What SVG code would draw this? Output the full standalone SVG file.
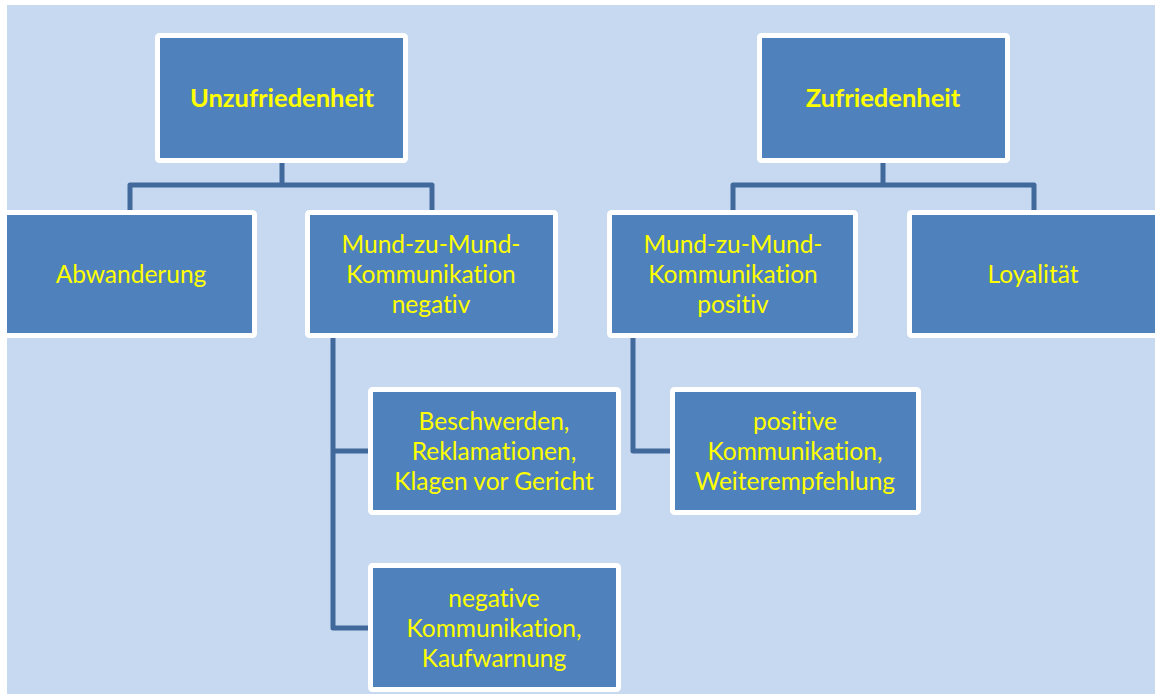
<svg xmlns="http://www.w3.org/2000/svg" width="1155" height="694" viewBox="0 0 1155 694">
  <style>
    .box { fill: #4f81bd; stroke: #ffffff; stroke-width: 5; }
    .lbl { font-family: Lato, "Open Sans", "Liberation Sans", sans-serif; font-size: 24.5px; fill: #ffff00; text-anchor: middle; font-variant-ligatures: none; }
    .head { font-weight: bold; font-size: 25.5px; }
    .wire { fill: none; stroke: #41699b; stroke-width: 5; stroke-linejoin: round; }
  </style>
  <rect x="0" y="0" width="1155" height="694" fill="#ffffff"/>
  <rect x="7" y="5" width="1148" height="689" fill="#c6d9f0"/>

  <g id="connectors">
    <path class="wire" d="M282 163 V185 M130 210 V185 H432 V210"/>
    <path class="wire" d="M883 163 V185 M733 210 V185 H1034 V210"/>
    <path class="wire" d="M333 338 V628 H368 M333 451 H368"/>
    <path class="wire" d="M633 338 V451 H670"/>
  </g>

  <g id="unzufriedenheit">
    <rect class="box" x="157.5" y="35.5" width="248" height="125" rx="2"/>
    <text class="lbl head" x="282" y="107">Unzufriedenheit</text>
  </g>
  <g id="zufriedenheit">
    <rect class="box" x="759.5" y="35.5" width="248" height="125" rx="2"/>
    <text class="lbl head" x="883" y="107">Zufriedenheit</text>
  </g>

  <g id="abwanderung">
    <rect class="box" x="4.5" y="212.5" width="250" height="123" rx="2"/>
    <text class="lbl" x="131" y="283">Abwanderung</text>
  </g>
  <g id="mzm-negativ">
    <rect class="box" x="307.5" y="212.5" width="248" height="123" rx="2"/>
    <text class="lbl" x="431" y="253">Mund-zu-Mund-</text>
    <text class="lbl" x="431" y="283">Kommunikation</text>
    <text class="lbl" x="431" y="313">negativ</text>
  </g>
  <g id="mzm-positiv">
    <rect class="box" x="609.5" y="212.5" width="246" height="123" rx="2"/>
    <text class="lbl" x="733" y="253">Mund-zu-Mund-</text>
    <text class="lbl" x="733" y="283">Kommunikation</text>
    <text class="lbl" x="733" y="313">positiv</text>
  </g>
  <g id="loyalitaet">
    <rect class="box" x="909.5" y="212.5" width="250" height="123" rx="2"/>
    <text class="lbl" x="1033" y="283">Loyalität</text>
  </g>

  <g id="beschwerden">
    <rect class="box" x="370.5" y="389.5" width="248" height="123" rx="2"/>
    <text class="lbl" x="494" y="430">Beschwerden,</text>
    <text class="lbl" x="494" y="460">Reklamationen,</text>
    <text class="lbl" x="494" y="490">Klagen vor Gericht</text>
  </g>
  <g id="negative-kommunikation">
    <rect class="box" x="370.5" y="565.5" width="248" height="124" rx="2"/>
    <text class="lbl" x="494" y="607">negative</text>
    <text class="lbl" x="494" y="637">Kommunikation,</text>
    <text class="lbl" x="494" y="667">Kaufwarnung</text>
  </g>
  <g id="positive-kommunikation">
    <rect class="box" x="672.5" y="389.5" width="246" height="123" rx="2"/>
    <text class="lbl" x="795" y="430">positive</text>
    <text class="lbl" x="795" y="460">Kommunikation,</text>
    <text class="lbl" x="795" y="490">Weiterempfehlung</text>
  </g>
</svg>
